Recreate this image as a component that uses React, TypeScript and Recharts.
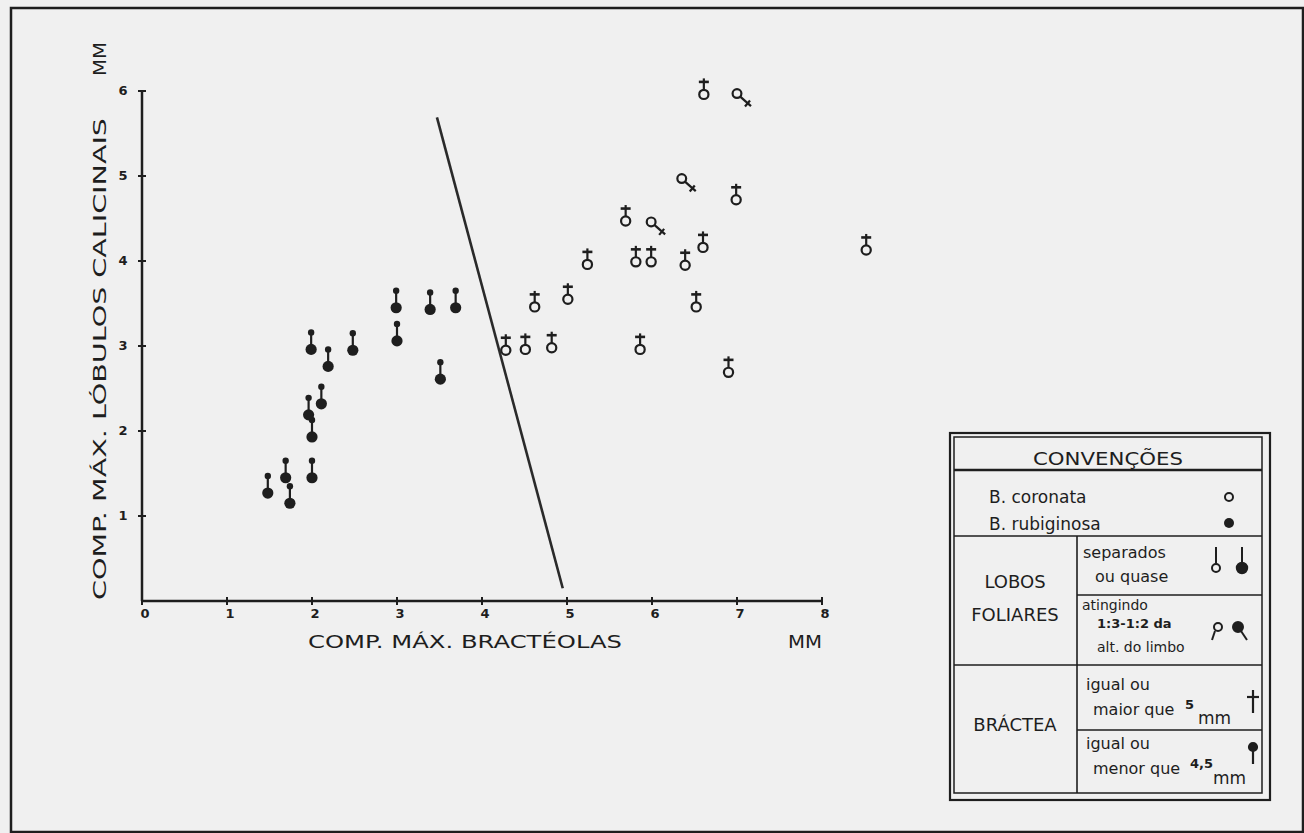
import React from "react";
import {
  ScatterChart, Scatter, XAxis, YAxis, ReferenceLine,
} from "recharts";

// B. rubiginosa, bractea <= 4.5 mm (filled pin)
const rubiginosa = [
  { x: 1.48, y: 1.27 }, { x: 1.69, y: 1.45 }, { x: 1.74, y: 1.15 },
  { x: 2.0, y: 1.45 }, { x: 2.0, y: 1.93 }, { x: 1.96, y: 2.19 },
  { x: 2.11, y: 2.32 }, { x: 1.99, y: 2.96 }, { x: 2.19, y: 2.76 },
  { x: 2.48, y: 2.95 }, { x: 2.99, y: 3.45 }, { x: 3.0, y: 3.06 },
  { x: 3.39, y: 3.43 }, { x: 3.51, y: 2.61 }, { x: 3.69, y: 3.45 },
];

// B. coronata, bractea >= 5 mm, lobes separate (open circle + cross)
const coronataSep = [
  { x: 4.28, y: 2.95 }, { x: 4.51, y: 2.96 }, { x: 4.82, y: 2.98 },
  { x: 4.62, y: 3.46 }, { x: 5.01, y: 3.55 }, { x: 5.24, y: 3.96 },
  { x: 5.69, y: 4.47 }, { x: 5.81, y: 3.99 }, { x: 5.99, y: 3.99 },
  { x: 6.39, y: 3.95 }, { x: 6.6, y: 4.16 }, { x: 6.52, y: 3.46 },
  { x: 5.86, y: 2.96 }, { x: 6.9, y: 2.69 }, { x: 6.99, y: 4.72 },
  { x: 6.61, y: 5.96 }, { x: 8.52, y: 4.13 },
];

// B. coronata, lobes reaching 1:3-1:2 (circle with diagonal cross)
const coronataReach = [
  { x: 5.99, y: 4.46 }, { x: 6.35, y: 4.97 }, { x: 7.0, y: 5.97 },
];

const X_TICKS = [0, 1, 2, 3, 4, 5, 6, 7, 8];
const Y_TICKS = [1, 2, 3, 4, 5, 6];
const DIVIDER = [{ x: 3.47, y: 5.69 }, { x: 4.95, y: 0.15 }];

const INK = "#1e1e1e";
const BG = "#f0f0f0";
const FONT = "'DejaVu Sans', sans-serif";

function PinShape({ cx, cy }: any) {
  return (
    <g>
      <line x1={cx} y1={cy} x2={cx} y2={cy - 17} stroke={INK} strokeWidth={2.2} />
      <circle cx={cx} cy={cy - 17} r={3.2} fill={INK} />
      <circle cx={cx} cy={cy} r={5.6} fill={INK} />
    </g>
  );
}

function DaggerShape({ cx, cy }: any) {
  return (
    <g stroke={INK} strokeWidth={2.2} fill="none">
      <circle cx={cx} cy={cy} r={4.6} />
      <line x1={cx} y1={cy - 4.6} x2={cx} y2={cy - 16} />
      <line x1={cx - 5} y1={cy - 12.5} x2={cx + 5} y2={cy - 12.5} strokeWidth={2.6} />
    </g>
  );
}

function ReachShape({ cx, cy }: any) {
  return (
    <g stroke={INK} strokeWidth={2.2} fill="none">
      <circle cx={cx} cy={cy} r={4.4} />
      <line x1={cx + 3.2} y1={cy + 3} x2={cx + 14} y2={cy + 12.5} />
      <line x1={cx + 8} y1={cy + 13} x2={cx + 13} y2={cy + 7} />
    </g>
  );
}

function XTick({ x, y, payload }: any) {
  return (
    <g>
      <line x1={x} y1={y - 4} x2={x} y2={y + 4} stroke={INK} strokeWidth={2} />
      <text x={x + 3} y={y + 17} textAnchor="middle" fontSize={13} fontWeight="bold"
        fontFamily={FONT} fill={INK}>{payload.value}</text>
    </g>
  );
}

function YTick({ x, y, payload }: any) {
  return (
    <g>
      <line x1={x - 4} y1={y} x2={x + 4} y2={y} stroke={INK} strokeWidth={2} />
      <text x={x - 19} y={y + 4} textAnchor="middle" fontSize={13} fontWeight="bold"
        fontFamily={FONT} fill={INK}>{payload.value}</text>
    </g>
  );
}

function LegendBox() {
  const t = { fontFamily: FONT, fill: INK } as const;
  return (
    <svg width={1304} height={833} style={{ position: "absolute", left: 0, top: 0, pointerEvents: "none" }}>
      {/* page frame */}
      <rect x={11} y={8} width={1292} height={824} fill="none" stroke={INK} strokeWidth={2.5} />

      {/* axis titles */}
      <text x={308} y={648} textLength={314} lengthAdjust="spacingAndGlyphs" fontSize={18} {...t}>
        COMP. MÁX. BRACTÉOLAS
      </text>
      <text x={788} y={648} textLength={34} lengthAdjust="spacingAndGlyphs" fontSize={18} {...t}>MM</text>
      <g transform="translate(106, 600) rotate(-90)">
        <text x={0} y={0} textLength={482} lengthAdjust="spacingAndGlyphs" fontSize={18} {...t}>
          COMP. MÁX. LÓBULOS CALICINAIS
        </text>
        <text x={524} y={0} textLength={34} lengthAdjust="spacingAndGlyphs" fontSize={18} {...t}>MM</text>
      </g>

      {/* legend */}
      <g fill="none" stroke={INK}>
        <rect x={950} y={433} width={320} height={367} strokeWidth={2.2} />
        <rect x={954} y={437} width={308} height={356} strokeWidth={1.5} />
        <line x1={954} y1={470} x2={1262} y2={470} strokeWidth={2.5} />
        <line x1={954} y1={536} x2={1262} y2={536} strokeWidth={1.6} />
        <line x1={954} y1={665} x2={1262} y2={665} strokeWidth={1.6} />
        <line x1={1077} y1={536} x2={1077} y2={793} strokeWidth={1.6} />
        <line x1={1077} y1={595} x2={1262} y2={595} strokeWidth={1.6} />
        <line x1={1077} y1={730} x2={1262} y2={730} strokeWidth={1.6} />
      </g>
      <text x={1108} y={465} textAnchor="middle" textLength={150} lengthAdjust="spacingAndGlyphs" fontSize={18} {...t}>CONVENÇÕES</text>
      <text x={989} y={503} fontSize={17} {...t}>B. coronata</text>
      <text x={989} y={530} fontSize={17} {...t}>B. rubiginosa</text>
      <circle cx={1229} cy={497} r={4} fill="none" stroke={INK} strokeWidth={2} />
      <circle cx={1229} cy={523} r={5} fill={INK} />

      <text x={1015} y={588} textAnchor="middle" fontSize={18} {...t}>LOBOS</text>
      <text x={1015} y={621} textAnchor="middle" fontSize={18} {...t}>FOLIARES</text>
      <text x={1083} y={558} fontSize={16} {...t}>separados</text>
      <text x={1095} y={582} fontSize={16} {...t}>ou quase</text>
      <g stroke={INK} strokeWidth={2}>
        <circle cx={1216} cy={568} r={4} fill="none" />
        <line x1={1216} y1={564} x2={1216} y2={547} />
        <line x1={1242} y1={566} x2={1242} y2={547} />
        <circle cx={1242} cy={568} r={5.2} fill={INK} />
      </g>
      <text x={1082} y={610} fontSize={14} {...t}>atingindo</text>
      <text x={1097} y={628} fontSize={13} fontWeight="bold" {...t}>1:3-1:2 da</text>
      <text x={1097} y={652} fontSize={14} {...t}>alt. do limbo</text>
      <g stroke={INK} strokeWidth={2}>
        <circle cx={1218} cy={627} r={4} fill="none" />
        <line x1={1215} y1={631} x2={1212} y2={640} />
        <circle cx={1238} cy={627} r={5} fill={INK} />
        <line x1={1241} y1={631} x2={1247} y2={640} />
      </g>

      <text x={1015} y={731} textAnchor="middle" fontSize={18} {...t}>BRÁCTEA</text>
      <text x={1086} y={690} fontSize={16} {...t}>igual ou</text>
      <text x={1093} y={715} fontSize={16} {...t}>maior que</text>
      <text x={1185} y={709} fontSize={13} fontWeight="bold" {...t}>5</text>
      <text x={1198} y={724} fontSize={17} {...t}>mm</text>
      <g stroke={INK} strokeWidth={2.2}>
        <line x1={1253} y1={690} x2={1253} y2={713} />
        <line x1={1247} y1={697} x2={1259} y2={697} />
      </g>
      <text x={1086} y={749} fontSize={16} {...t}>igual ou</text>
      <text x={1093} y={774} fontSize={16} {...t}>menor que</text>
      <text x={1190} y={768} fontSize={13} fontWeight="bold" {...t}>4,5</text>
      <text x={1213} y={784} fontSize={17} {...t}>mm</text>
      <g stroke={INK} strokeWidth={2.2}>
        <line x1={1253} y1={748} x2={1253} y2={764} />
        <circle cx={1253} cy={747} r={4} fill={INK} />
      </g>
    </svg>
  );
}

export default function App() {
  return (
    <div style={{ position: "absolute", left: 0, top: 0, width: 1304, height: 833, background: BG, overflow: "hidden" }}>
      <ScatterChart width={1304} height={833} margin={{ top: 91, right: 397, bottom: 192, left: 102 }}>
        <XAxis
          type="number" dataKey="x" domain={[0, 9]} ticks={X_TICKS}
          axisLine={false} tickLine={false} tickSize={0} tickMargin={0}
          tick={<XTick />} height={40} interval={0}
        />
        <YAxis
          type="number" dataKey="y" domain={[0, 6]} ticks={Y_TICKS}
          axisLine={{ stroke: INK, strokeWidth: 2.5 }} tickLine={false} tickSize={0} tickMargin={0}
          tick={<YTick />} width={40} interval={0}
        />
        <ReferenceLine segment={[{ x: 0, y: 0 }, { x: 8, y: 0 }]} stroke={INK} strokeWidth={2.5} ifOverflow="visible" />
        <ReferenceLine segment={DIVIDER} stroke="#2a2a2a" strokeWidth={2.6} ifOverflow="visible" />
        <Scatter data={rubiginosa} shape={<PinShape />} isAnimationActive={false} />
        <Scatter data={coronataSep} shape={<DaggerShape />} isAnimationActive={false} />
        <Scatter data={coronataReach} shape={<ReachShape />} isAnimationActive={false} />
      </ScatterChart>
      <LegendBox />
    </div>
  );
}
